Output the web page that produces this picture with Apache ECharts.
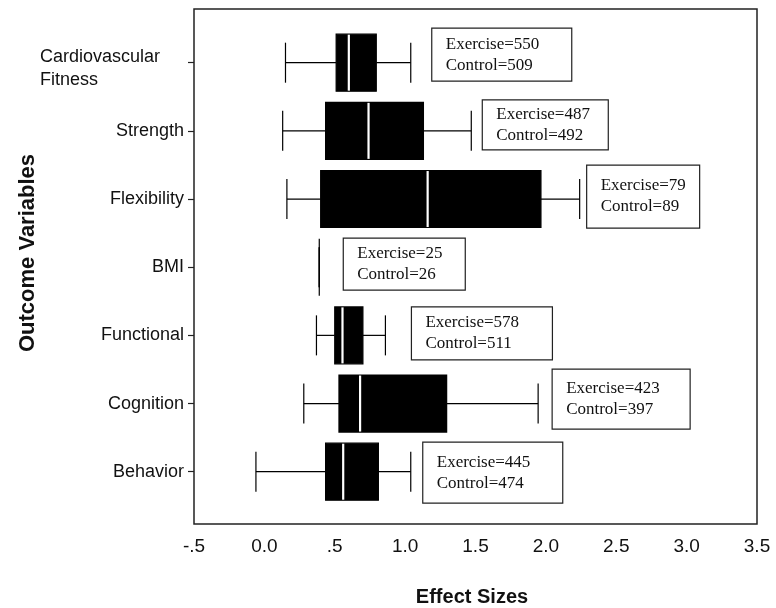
<!DOCTYPE html>
<html><head><meta charset="utf-8">
<script src="https://cdn.jsdelivr.net/npm/echarts@6/dist/echarts.min.js"></script>
<style>html,body{margin:0;padding:0;background:#fff}#c{width:776px;height:608px}</style>
</head><body><div id="c"></div>
<script>
// ---- data ----
const categories = ['Cardiovascular Fitness','Strength','Flexibility','BMI','Functional','Cognition','Behavior'];
const whiskerLow  = [0.15, 0.13, 0.16, 0.39, 0.37, 0.28, -0.06];
const q1          = [0.51, 0.435, 0.40, 0.39, 0.50, 0.53, 0.435];
const median      = [0.60, 0.74, 1.16, 0.39, 0.555, 0.68, 0.56];
const q3          = [0.795, 1.13, 1.965, 0.39, 0.70, 1.295, 0.81];
const whiskerHigh = [1.04, 1.47, 2.24, 0.39, 0.86, 1.945, 1.04];
const exerciseN   = [550, 487, 79, 25, 578, 423, 445];
const controlN    = [509, 492, 89, 26, 511, 397, 474];
const xTickLabels = ['-.5','0.0','.5','1.0','1.5','2.0','2.5','3.0','3.5'];

// ---- annotation box layout (pixels) ----
const annGap = [21, 11, 7, 24, 26, 14, 12];
const annW   = [140, 126, 113, 122, 141, 138, 140];
const annH   = [53, 50, 63, 52, 53, 60, 61];
const annDy  = [-8, -6, -2.5, -3, -2, -4.5, 1];

const seriesData = categories.map((c, i) => [i, whiskerLow[i], q1[i], median[i], q3[i], whiskerHigh[i], exerciseN[i], controlN[i]]);

function renderItem(params, api) {
  const i = api.value(0);
  const pL = api.coord([api.value(1), i]);
  const y = pL[1];
  const xL = pL[0];
  const xQ1 = api.coord([api.value(2), i])[0];
  const xM = api.coord([api.value(3), i])[0];
  const xQ3 = api.coord([api.value(4), i])[0];
  const xH = api.coord([api.value(5), i])[0];
  const band = api.size([0, 1])[1];
  const bh = band * 0.836, ch = band * 0.587;
  const ls = {stroke: '#000', lineWidth: 1.2};
  const children = [
    {type: 'line', shape: {x1: xL, y1: y, x2: xQ1, y2: y}, style: ls},
    {type: 'line', shape: {x1: xQ3, y1: y, x2: xH, y2: y}, style: ls},
    {type: 'line', shape: {x1: xL, y1: y - ch / 2, x2: xL, y2: y + ch / 2}, style: ls},
    {type: 'line', shape: {x1: xH, y1: y - ch / 2, x2: xH, y2: y + ch / 2}, style: ls},
    {type: 'rect', shape: {x: xQ1, y: y - bh / 2, width: xQ3 - xQ1, height: bh}, style: {fill: '#000', stroke: '#000', lineWidth: 1.2}}
  ];
  if (xQ3 - xQ1 > 4) {
    children.push({type: 'line', shape: {x1: xM, y1: y - bh / 2 + 0.5, x2: xM, y2: y + bh / 2 - 0.5}, style: {stroke: '#fff', lineWidth: 2.2}});
  }
  const ax = xH + annGap[i];
  const ay = y + annDy[i];
  children.push({type: 'rect', shape: {x: ax, y: ay - annH[i] / 2, width: annW[i], height: annH[i]}, style: {fill: '#fff', stroke: '#222', lineWidth: 1.2}});
  children.push({type: 'text', x: ax + 14, y: ay, style: {text: 'Exercise=' + api.value(6) + '\nControl=' + api.value(7), font: '17px "Liberation Serif", "Times New Roman", serif', fill: '#111', align: 'left', verticalAlign: 'middle', lineHeight: 21}});
  return {type: 'group', children};
}

const FONT = '"Liberation Sans", Arial, sans-serif';
const chart = echarts.init(document.getElementById('c'), null, {renderer: 'canvas'});
chart.setOption({
  animation: false,
  backgroundColor: '#fff',
  grid: [
    {left: 194, right: 19, top: 9, bottom: 84, show: true, borderColor: '#222', borderWidth: 1.5, backgroundColor: 'transparent'},
    {left: 194, right: 19, top: 28.6, bottom: 102.2}
  ],
  xAxis: [
    {gridIndex: 0, type: 'value', min: -0.5, max: 3.5, interval: 0.5,
     axisLine: {show: false}, axisTick: {show: false}, splitLine: {show: false},
     axisLabel: {margin: 13, fontSize: 19, color: '#111', fontFamily: FONT,
       formatter: v => xTickLabels[Math.round((v + 0.5) / 0.5)]}},
    {gridIndex: 1, type: 'value', min: -0.5, max: 3.5, show: false}
  ],
  yAxis: [
    {gridIndex: 0, type: 'value', min: 0, max: 1, show: false},
    {gridIndex: 1, type: 'category', inverse: true, data: categories,
     axisLine: {show: false, onZero: false},
     axisTick: {show: true, length: 6, alignWithLabel: true, lineStyle: {color: '#222', width: 1.2}},
     axisLabel: {margin: 10, fontSize: 18, color: '#111', fontFamily: FONT,
       formatter: (v, idx) => idx === 0 ? '{S| }\n{L|Cardiovascular}\n{L|Fitness}' : v,
       rich: {
         S: {fontSize: 2, lineHeight: 12},
         L: {width: 144, align: 'left', fontSize: 18, color: '#111', fontFamily: FONT, lineHeight: 23}
       }}}
  ],
  series: [{
    type: 'custom', xAxisIndex: 1, yAxisIndex: 1, renderItem, clip: false,
    encode: {x: [1, 2, 3, 4, 5], y: 0},
    data: seriesData
  }],
  graphic: [
    {type: 'text', x: 28, y: 253, rotation: Math.PI / 2,
     style: {text: 'Outcome Variables', font: 'bold 22px ' + FONT, fill: '#111', align: 'center', verticalAlign: 'middle'}},
    {type: 'text', x: 472, y: 597,
     style: {text: 'Effect Sizes', font: 'bold 20px ' + FONT, fill: '#111', align: 'center', verticalAlign: 'middle'}}
  ]
});
</script></body></html>
